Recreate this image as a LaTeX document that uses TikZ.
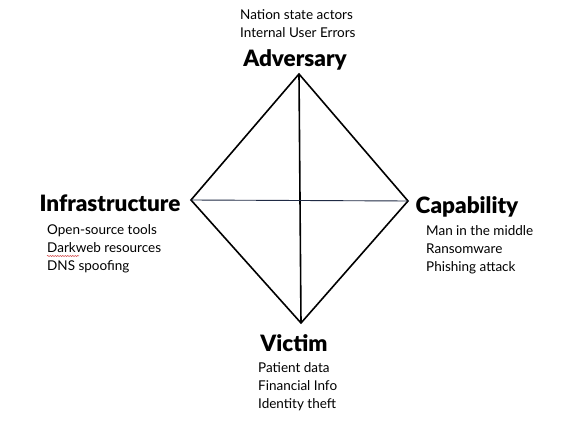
\documentclass[tikz,border=0pt]{standalone}
\usepackage{fontspec}
\usepackage{xcolor}
\usepackage{tikz}
\usetikzlibrary{positioning,decorations.pathmorphing}
\setmainfont{Lato}[BoldFont={Lato Black}]
\definecolor{crossnavy}{HTML}{1F2A44}
\definecolor{spellred}{HTML}{D03A3A}

\begin{document}
\begin{tikzpicture}[
    x=1pt, y=-1pt,
    head/.style={font=\bfseries\fontsize{22.5}{25}\selectfont, inner sep=0pt},
    items/.style={font=\fontsize{13.5}{18}\selectfont, align=left, inner sep=0pt, anchor=west},
    edge/.style={line width=1.6pt, draw=black},
    cross/.style={line width=0.9pt, draw=crossnavy}
]
\useasboundingbox (0,0) rectangle (579,425);
\coordinate (top) at (299,74);
\coordinate (left) at (191,200);
\coordinate (right) at (408,201);
\coordinate (bottom) at (301,323);
\draw[edge] (top) -- (right) -- (bottom) -- (left) -- cycle;
\draw[edge] (top) -- (bottom);
\draw[cross] (left) -- (right);

\node[head] (adv) at (295,60) {Adversary};
\node[items] (advlist) at (240,24) {Nation state actors\\Internal User Errors};
\node[head] (infra) at (110,203) {Infrastructure};
\node[items] (infralist) at (47,249) {Open-source tools\\Darkweb resources\\DNS spoofing};
\node[head] (cap) at (467,207) {Capability};
\node[items] (caplist) at (426,250) {Man in the middle\\Ransomware\\Phishing attack};
\node[head] (vic) at (294,343) {Victim};
\node[items] (viclist) at (258,387) {Patient data\\Financial Info\\Identity theft};
% spell-check underline
\draw[spellred, line width=0.5pt, decorate, decoration={snake, amplitude=0.6pt, segment length=2.5pt}] (47,256) -- (79,256);
\end{tikzpicture}
\end{document}
